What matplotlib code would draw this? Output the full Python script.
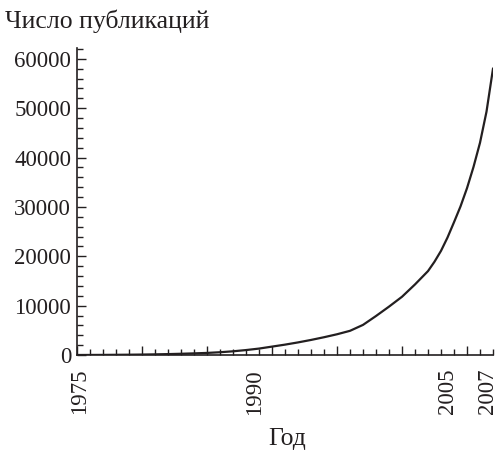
import matplotlib
matplotlib.use("Agg")
import matplotlib.pyplot as plt
import matplotlib.transforms as mtransforms
from matplotlib.ticker import FixedLocator, MultipleLocator, FuncFormatter

years = [1975, 1976, 1977, 1978, 1979, 1980, 1981, 1982, 1983, 1984,
         1985, 1986, 1987, 1988, 1989, 1990, 1991, 1992, 1993, 1994,
         1995, 1996, 1997, 1998, 1999, 2000, 2001, 2002, 2002.5, 2003,
         2003.5, 2004, 2004.5, 2005, 2005.5, 2006, 2006.5, 2007]
publications = [0, 10, 20, 40, 60, 90, 130, 180, 250, 330,
                420, 560, 750, 1000, 1300, 1700, 2100, 2550, 3050, 3600,
                4200, 4900, 6100, 7900, 9800, 11800, 14300, 17000, 18900, 21100,
                23800, 26900, 30100, 33800, 38100, 43000, 49300, 58000]

y_label = "Число публикаций"
x_label = "Год"
x_major = [1975, 1980, 1985, 1990, 1995, 2000, 2005, 2007]
x_labeled = [1975, 1990, 2005, 2007]
y_major = [0, 10000, 20000, 30000, 40000, 50000, 60000]

plt.rcParams['font.family'] = ['Liberation Serif', 'DejaVu Serif']
ink = '#231f20'

fig = plt.figure(figsize=(5, 4.5), dpi=100)
ax = fig.add_axes([77/500, 1-355/450, (493-77)/500, (355-48)/450])

ax.plot(years, publications, color=ink, lw=1.6, solid_joinstyle='round')

ax.set_xlim(1975, 2007)
ax.set_ylim(0, 62200)

for s in ['top', 'right']:
    ax.spines[s].set_visible(False)
for s in ['left', 'bottom']:
    ax.spines[s].set_linewidth(1.2)
    ax.spines[s].set_color(ink)

ax.xaxis.set_major_locator(FixedLocator(x_major))
ax.xaxis.set_minor_locator(MultipleLocator(1))
ax.xaxis.set_major_formatter(FuncFormatter(lambda v, p: str(int(round(v))) if int(round(v)) in x_labeled else ''))
ax.yaxis.set_major_locator(FixedLocator(y_major))
ax.yaxis.set_minor_locator(MultipleLocator(2000))
ax.yaxis.set_major_formatter(FuncFormatter(lambda v, p: str(int(round(v)))))

ax.tick_params(which='major', direction='in', length=6.5, width=1.0, color=ink, labelsize=16.5, labelcolor=ink)
ax.tick_params(which='minor', direction='in', length=4, width=1.0, color=ink)
ax.tick_params(axis='x', which='major', labelrotation=90, pad=10)
ax.tick_params(axis='y', which='major', pad=4.3)

ticks = ax.xaxis.get_major_ticks()
ticks[-1].tick1line.set_markersize(4)

# hand-placed horizontal nudges of the year labels (pixels)
nudges = {1975: 3, 1990: -17, 2005: -20, 2007: -5}
fig.canvas.draw()
for t, loc in zip(ticks, x_major):
    if loc in nudges:
        off = mtransforms.ScaledTranslation(nudges[loc] / 100, 0, fig.dpi_scale_trans)
        t.label1.set_transform(t.label1.get_transform() + off)

fig.text(5/500, 1-28/450, y_label, fontsize=18.5, ha='left', va='baseline', color=ink)
fig.text(268/500, 1-445/450, x_label, fontsize=18.5, ha='left', va='baseline', color=ink)

fig.savefig("out.png", dpi=100)
